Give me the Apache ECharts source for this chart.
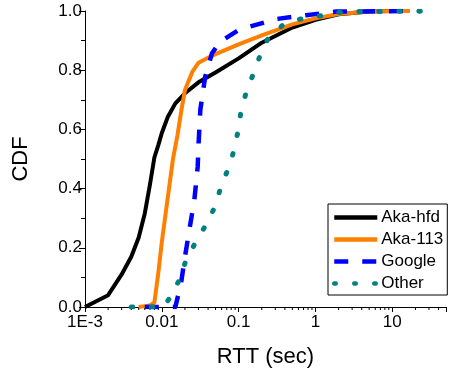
<!DOCTYPE html>
<html>
<head>
<meta charset="utf-8">
<script src="https://cdn.jsdelivr.net/npm/echarts@6/dist/echarts.min.js"></script>
<style>html,body{margin:0;padding:0;background:#fff;}#c{width:449px;height:374px;}</style>
</head>
<body>
<div id="c"></div>
<script>
// ---- data ----
const seriesNames = ['Aka-hfd', 'Aka-113', 'Google', 'Other'];

const hfdX = [0.001, 0.002, 0.003, 0.004, 0.005, 0.006, 0.007, 0.008, 0.009, 0.010, 0.012, 0.015, 0.020, 0.030, 0.050, 0.100, 0.200, 0.500, 1, 2, 5, 10, 15];
const hfdY = [0.000, 0.040, 0.110, 0.170, 0.235, 0.316, 0.413, 0.505, 0.547, 0.588, 0.643, 0.688, 0.722, 0.759, 0.792, 0.840, 0.893, 0.944, 0.970, 0.989, 0.998, 1.000, 1.000];

const a113X = [0.005, 0.006, 0.007, 0.008, 0.009, 0.010, 0.012, 0.014, 0.016, 0.018, 0.020, 0.025, 0.030, 0.040, 0.050, 0.100, 0.200, 0.500, 1, 2, 5, 10, 17];
const a113Y = [0.000, 0.003, 0.005, 0.015, 0.115, 0.220, 0.373, 0.502, 0.581, 0.666, 0.733, 0.795, 0.825, 0.842, 0.854, 0.887, 0.918, 0.955, 0.975, 0.990, 0.998, 1.000, 1.000];

const googX = [0.006, 0.010, 0.015, 0.0178, 0.0197, 0.0228, 0.0265, 0.0293, 0.0301, 0.0317, 0.0367, 0.0449, 0.0574, 0.100, 0.115, 0.310, 0.760, 1.86, 16];
const googY = [0.000, 0.000, 0.000, 0.080, 0.159, 0.260, 0.361, 0.474, 0.553, 0.666, 0.778, 0.857, 0.896, 0.936, 0.941, 0.973, 0.986, 0.998, 1.000];

const otherX = [0.004, 0.0085, 0.0105, 0.0126, 0.0169, 0.0207, 0.0279, 0.0386, 0.0505, 0.0586, 0.0751, 0.0871, 0.099, 0.107, 0.125, 0.155, 0.189, 0.242, 0.379, 0.62, 1.02, 2.05, 3.4, 40];
const otherY = [0.000, 0.000, 0.000, 0.030, 0.091, 0.159, 0.221, 0.283, 0.345, 0.406, 0.474, 0.530, 0.598, 0.660, 0.724, 0.787, 0.848, 0.908, 0.953, 0.972, 0.981, 0.995, 0.998, 1.000];

const xTickLabels = { '-3': '1E-3', '-2': '0.01', '-1': '0.1', '0': '1', '1': '10' };
const yTickLabels = ['0.0', '0.2', '0.4', '0.6', '0.8', '1.0'];
const xMinorTickValues = [];
[0.001, 0.01, 0.1, 1, 10].forEach(function (d) { for (let k = 2; k <= 9; k++) { const v = d * k; if (v < 50) xMinorTickValues.push(v); } });

// ---- chart ----
const FONT = "'Liberation Sans', Arial, sans-serif";
const zip = (xs, ys) => xs.map((x, i) => [x, ys[i]]);
const chart = echarts.init(document.getElementById('c'), null, { renderer: 'canvas' });

const lineBase = { type: 'line', symbol: 'none', showSymbol: false, smooth: false, animation: false, z: 3 };

chart.setOption({
  animation: false,
  backgroundColor: '#fff',
  grid: { left: 85, right: 0, top: 11, bottom: 67, containLabel: false },
  xAxis: {
    type: 'log', logBase: 10, min: 0.001, max: 50,
    name: 'RTT (sec)', nameLocation: 'middle', nameGap: 39,
    nameTextStyle: { fontFamily: FONT, fontSize: 22, color: '#000' },
    axisLine: { show: true, onZero: false, lineStyle: { color: '#000', width: 1 } },
    axisTick: { show: true, inside: false, length: 5, lineStyle: { color: '#000', width: 1 } },
    minorTick: { show: false },
    splitLine: { show: false },
    axisLabel: {
      fontFamily: FONT, fontSize: 17, color: '#000', margin: 7,
      showMinLabel: true, showMaxLabel: true,
      formatter: function (v) {
        const e = Math.round(Math.log10(v));
        if (Math.abs(Math.log10(v) - e) > 1e-6) return '';
        return xTickLabels[String(e)] || '';
      }
    }
  },
  yAxis: {
    type: 'value', min: 0, max: 1, interval: 0.2,
    name: 'CDF', nameLocation: 'middle', nameGap: 53,
    nameTextStyle: { fontFamily: FONT, fontSize: 22, color: '#000' },
    axisLine: { show: true, lineStyle: { color: '#000', width: 1 } },
    axisTick: { show: true, inside: false, length: 6, lineStyle: { color: '#000', width: 1 } },
    minorTick: { show: true, splitNumber: 2, length: 4, lineStyle: { color: '#000', width: 1 } },
    splitLine: { show: false },
    axisLabel: {
      fontFamily: FONT, fontSize: 17, color: '#000', margin: 3,
      formatter: function (v) { return yTickLabels[Math.round(v / 0.2)]; }
    }
  },
  legend: {
    data: seriesNames,
    orient: 'vertical', left: 328, top: 204,
    padding: [5, 4, 3, 4],
    itemGap: 5, itemWidth: 43, itemHeight: 14,
    borderColor: '#000', borderWidth: 1, borderRadius: 0,
    backgroundColor: '#fff',
    itemStyle: { opacity: 0 },
    lineStyle: { width: 4.5 },
    textStyle: { fontFamily: FONT, fontSize: 17, color: '#000', lineHeight: 17, padding: [0, 0, 0, -1] },
    selectedMode: false
  },
  series: [
    Object.assign({}, lineBase, { name: 'Aka-hfd', data: zip(hfdX, hfdY), color: '#000000',
      lineStyle: { color: '#000000', width: 4, cap: 'butt', join: 'round' } }),
    Object.assign({}, lineBase, { name: 'Aka-113', data: zip(a113X, a113Y), color: '#FF7F00',
      lineStyle: { color: '#FF7F00', width: 4, cap: 'butt', join: 'round' } }),
    Object.assign({}, lineBase, { name: 'Google', data: zip(googX, googY), color: '#0000FF',
      lineStyle: { color: '#0000FF', width: 4.5, type: [14, 14], cap: 'butt', join: 'round' } }),
    Object.assign({}, lineBase, { name: 'Other', data: zip(otherX, otherY), color: '#008080',
      lineStyle: { color: '#008080', width: 5, type: [1.5, 18.5], cap: 'round', join: 'round' } }),
    {
      type: 'custom', name: 'minorTicks', silent: true, clip: false, z: 1,
      data: xMinorTickValues.map(v => [v, 0]),
      encode: { x: 0, y: 1 },
      renderItem: function (params, api) {
        const p = api.coord([api.value(0), 0]);
        return { type: 'line', shape: { x1: p[0], y1: p[1], x2: p[0], y2: p[1] + 3 }, style: { stroke: '#000', lineWidth: 1 } };
      }
    }
  ]
});
</script>
</body>
</html>
